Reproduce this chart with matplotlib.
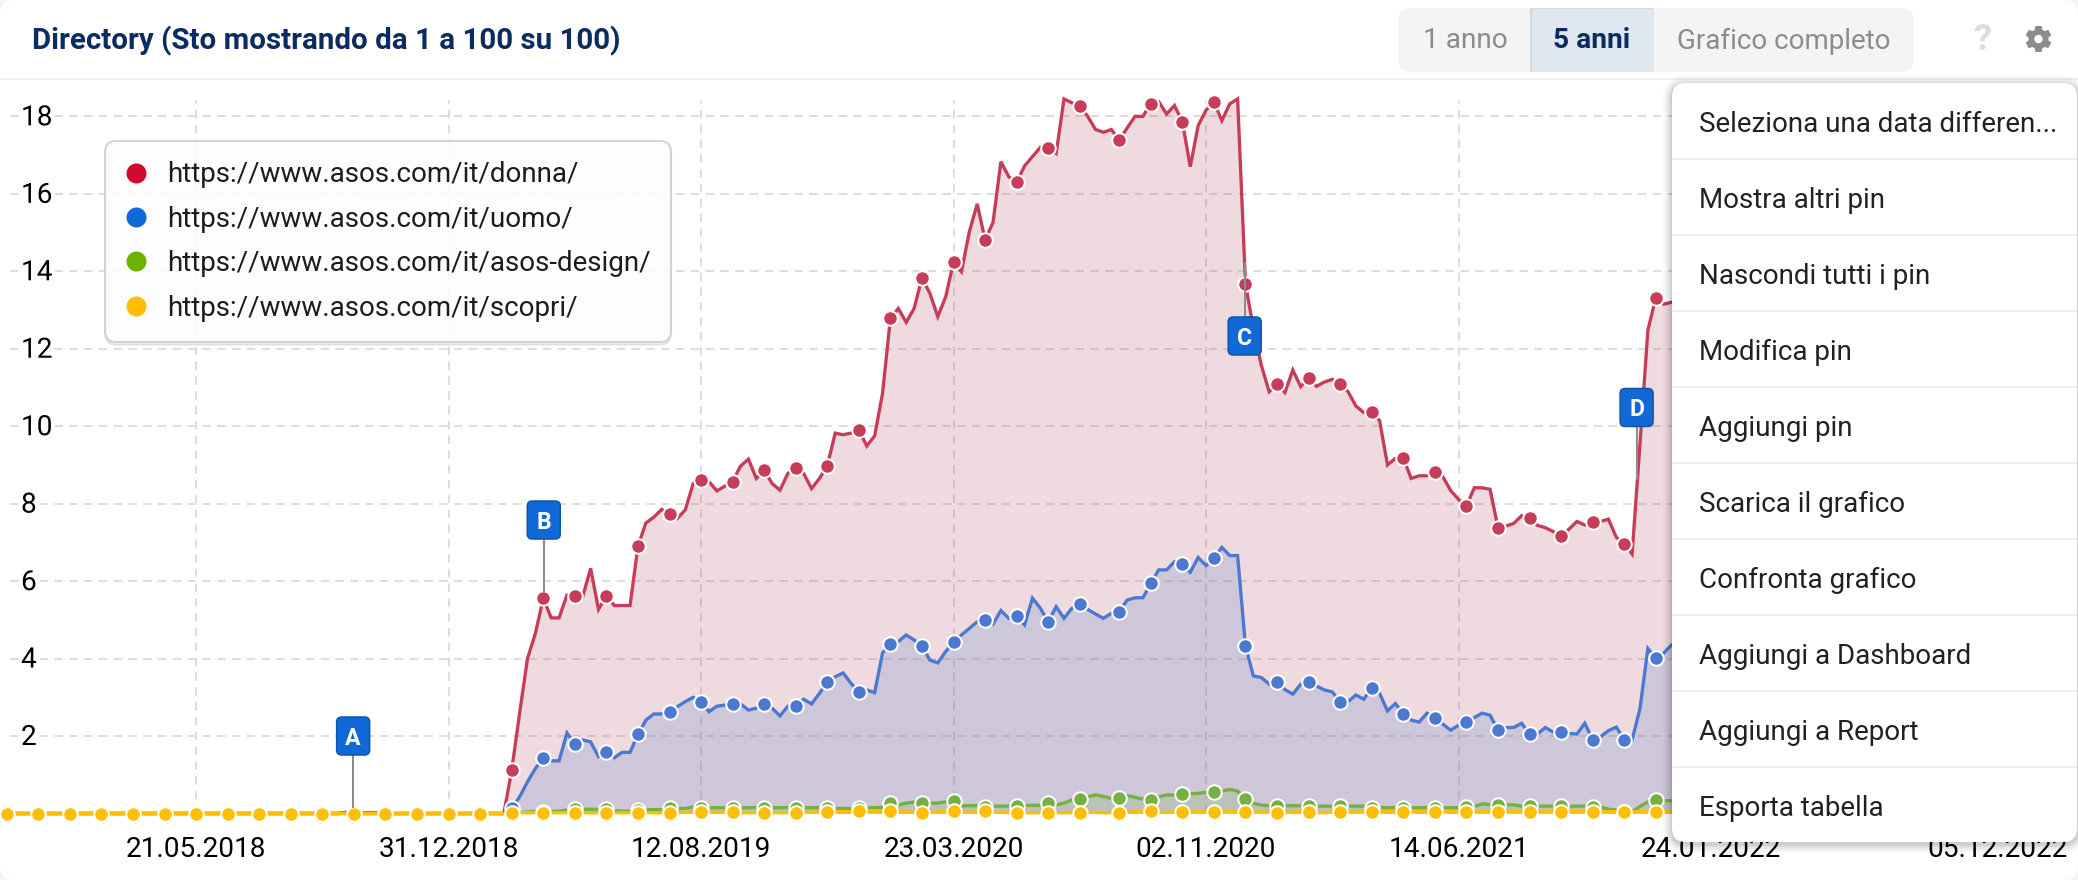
import matplotlib
matplotlib.use("Agg")
import matplotlib.pyplot as plt
import matplotlib.dates as mdates
import pandas as pd
import numpy as np
from matplotlib.lines import Line2D
from matplotlib.patches import FancyBboxPatch, Rectangle, Polygon, Circle
from matplotlib.transforms import ScaledTranslation
import matplotlib.patheffects as pe

plt.rcParams['font.family'] = ['Roboto', 'DejaVu Sans']

W, H = 2078, 880

first_date = '2017-12-04'
tick_dates = ['2018-05-21', '2018-12-31', '2019-08-12', '2020-03-23', '2020-11-02', '2021-06-14', '2022-01-24', '2022-12-05']
y_ticks = [2, 4, 6, 8, 10, 12, 14, 16, 18]
series_names = ['https://www.asos.com/it/donna/', 'https://www.asos.com/it/uomo/',
                'https://www.asos.com/it/asos-design/', 'https://www.asos.com/it/scopri/']

donna = [
 0,0,0,0,0,0,0,0,0,0,0,0,0,0,0,0,0,0,0,0,0,0,0,0,0,0,0,0,0,0,0,0,0,0,0,0,0,0,0,0,0,0,
 0,.03,.03,0,0,0,0,0,0,0,0,0,0,0, 0,0,0,0,0,0,0,0,
 1.12,2.59,4.0,4.65,5.56,5.05,5.05,5.64,5.62,5.6,6.33,5.27,5.62,5.37,5.37,5.37,
 6.9,7.5,7.65,7.85,7.74,7.62,7.84,8.52,8.61,8.57,8.33,8.45,8.57,8.97,9.15,8.65,
 8.87,8.52,8.35,8.78,8.91,8.78,8.39,8.65,8.98,9.82,9.78,9.82,9.9,9.49,9.75,10.85,
 12.79,13.04,12.68,13.04,13.83,13.43,12.83,13.34,14.24,13.99,15.02,15.74,14.81,15.26,16.83,16.44,
 16.3,16.72,16.96,17.2,17.18,17.04,18.45,18.35,18.27,18.0,17.66,17.59,17.66,17.39,17.7,18.0,
 18.0,18.33,18.38,18.06,18.28,17.86,16.7,17.76,18.16,18.37,17.89,18.32,18.45,13.67,12.53,11.58,
 10.89,11.09,10.87,11.45,11.02,11.25,11.03,11.14,11.21,11.09,10.89,10.52,10.35,10.37,10.14,9.0,
 9.17,9.18,8.65,8.72,8.72,8.83,8.7,8.34,8.11,7.94,8.41,8.41,8.37,7.38,7.42,7.49,
 7.69,7.63,7.44,7.38,7.28,7.17,7.34,7.54,7.45,7.53,7.54,7.6,7.13,6.97,6.7,9.55,
 12.48,13.31,13.15,13.2]
uomo = [
 0,0,0,0,0,0,0,0,0,0,0,0,0,0,0,0,0,0,0,0,0,0,0,0,0,0,0,0,0,0,0,0,0,0,0,0,0,0,0,0,0,0,
 0,.03,.03,.02,.02,.02,.03,0,0,0,0,0,0,0, 0,0,0,0,0,0,0,0,
 .13,.43,.82,1.16,1.44,1.36,1.36,2.08,1.8,1.9,1.85,1.47,1.59,1.44,1.58,1.58,
 2.05,2.41,2.57,2.57,2.63,2.76,2.89,3.0,2.89,2.63,2.77,2.8,2.83,2.83,2.67,2.72,
 2.83,2.72,2.52,2.77,2.77,2.95,2.83,3.1,3.4,3.53,3.63,3.36,3.14,3.19,3.12,4.15,
 4.38,4.44,4.61,4.48,4.33,3.96,3.89,4.18,4.43,4.61,4.78,4.95,5.0,4.89,5.24,5.04,
 5.1,4.87,5.56,5.3,4.95,5.34,5.04,5.3,5.41,5.27,5.15,5.04,5.17,5.21,5.51,5.57,
 5.57,5.94,6.29,6.29,6.5,6.44,6.23,6.61,6.4,6.59,6.87,6.66,6.66,4.32,3.55,3.51,
 3.34,3.39,3.2,3.08,3.34,3.39,3.29,3.19,3.14,2.88,2.89,3.06,2.95,3.25,3.1,2.65,
 2.84,2.57,2.41,2.36,2.59,2.47,2.31,2.15,2.28,2.36,2.48,2.59,2.54,2.15,2.22,2.22,
 2.33,2.05,2.05,2.22,2.1,2.1,2.07,2.05,2.33,1.9,1.98,2.14,2.23,1.9,1.9,2.71,
 4.26,4.01,4.14,4.35]
asos_design = [
 0,0,0,0,0,0,0,0,0,0,0,0,0,0,0,0,0,0,0,0,0,0,0,0,0,0,0,0,0,0,0,0,0,0,0,0,0,0,0,0,0,0,
 0,0,0,0,0,0,0,0,0,0,0,0,0,0, 0,0,0,0,0,0,0,0,
 0,.02,.04,.05,.05,.05,.06,.09,.11,.11,.11,.11,.11,.07,.06,.06,
 .09,.1,.1,.1,.13,.13,.13,.17,.15,.15,.15,.15,.15,.15,.15,.15,
 .15,.15,.15,.15,.15,.15,.15,.15,.13,.13,.13,.13,.13,.15,.15,.16,
 .26,.22,.27,.29,.28,.27,.27,.3,.32,.2,.2,.2,.18,.19,.19,.19,
 .2,.21,.21,.21,.26,.22,.27,.35,.37,.43,.48,.44,.39,.41,.46,.42,
 .37,.36,.43,.48,.48,.51,.51,.52,.55,.55,.58,.62,.58,.37,.26,.22,
 .2,.2,.2,.2,.2,.19,.19,.19,.19,.19,.19,.19,.19,.15,.15,.15,
 .15,.15,.15,.15,.15,.15,.15,.15,.15,.16,.18,.25,.23,.23,.23,.22,
 .19,.19,.19,.19,.19,.19,.19,.19,.19,.18,.17,.11,.09,.05,.05,.18,
 .3,.35,.33,.33]
scopri = [
 0,0,0,0,0,0,0,0,0,0,0,0,0,0,0,0,0,0,0,0,0,0,0,0,0,0,0,0,0,0,0,0,0,0,0,0,0,0,0,0,0,0,
 0,0,0,0,0,0,0,0,0,0,0,0,0,0, 0,0,0,0,0,0,0,0,
 .01,.02,.02,.02,.02,.02,.02,.02,.02,.02,.02,.02,.02,.02,.02,.02,
 .02,.02,.02,.02,.02,.02,.03,.03,.03,.03,.03,.03,.03,.02,.02,.02,
 .02,.02,.02,.02,.02,.03,.03,.04,.05,.05,.05,.05,.06,.06,.06,.06,
 .06,.06,.05,.03,.02,.03,.04,.05,.06,.03,.03,.04,.06,.03,.03,.02,
 .02,.02,.02,.02,.02,.02,.02,.02,.02,.03,.03,.02,.02,.02,.03,.05,
 .05,.06,.03,.03,.04,.05,.05,.05,.05,.05,.05,.05,.05,.05,.04,.04,
 .03,.01,.02,.04,.05,.05,.02,.02,.04,.05,.05,.03,.05,.05,.05,.05,
 .05,.05,.05,.05,.05,.05,.05,.05,.05,.05,.05,.05,.05,.05,.05,.05,
 .05,.05,.05,.05,.05,.05,.05,.05,.05,.05,.05,.05,.05,.05,.05,.05,
 .05,.05,.05,.05]
# positions (index in the weekly series) of the circled points
marker_idx = [0,4,8,12,16,20,24,28,32,36,40,44,48,52,56,60,64,68,72,76,80,84,88,92,96,100,104,108,112,116,120,
              124,128,132,136,141,145,149,153,157,161,165,169,173,177,181,185,189,193,197,201,205,209]

dates = pd.date_range(first_date, periods=len(donna), freq='7D')
line_cols = ['#c53d58', '#4b79cf', '#75b043', '#ffbe00']
fill_cols = ['#aa3c50', '#6c88cb', '#90ba6f', '#ffbe00']
fill_alpha = [0.18, 0.25, 0.30, 0.15]
legend_cols = ['#cf0a2c', '#1169d8', '#6cb300', '#ffbe00']

fig = plt.figure(figsize=(W/100, H/100), dpi=100, facecolor='#f4f4f4')
px = 0.72  # points per pixel
FS = 28 * px

# card background
bg = fig.add_axes([0, 0, 1, 1], zorder=-1)
bg.set_xlim(0, W); bg.set_ylim(H, 0); bg.axis('off')
bg.add_patch(FancyBboxPatch((12, 12), W-24, H-24, boxstyle='round,pad=12,rounding_size=14', fc='white', ec='none'))

# chart
L, R, T, B = 10, 2070, 100, 813.5
ax = fig.add_axes([L/W, 1-B/H, (R-L)/W, (B-T)/H], zorder=1)
ax.patch.set_alpha(0)
d0 = mdates.date2num(pd.Timestamp('2018-12-31'))
wk_px = 7.89 / 7
ax.set_xlim(d0 + (L-448.6)/wk_px, d0 + (R-448.6)/wk_px)
ax.set_ylim(0, (B-T)/38.73)
for s in ax.spines.values():
    s.set_visible(False)
ax.set_axisbelow(True)
ax.grid(True, color='#dedcdc', lw=2*px, dashes=(4.2, 3.2))
ax.set_yticks(y_ticks)
ax.set_xticks(mdates.date2num(pd.to_datetime(tick_dates)))
ax.xaxis.set_major_formatter(mdates.DateFormatter('%d.%m.%Y'))
ax.tick_params(length=0)
ax.tick_params(axis='x', labelsize=FS, pad=22*px, labelcolor='black')
ax.tick_params(axis='y', labelsize=FS, pad=-11*px, labelcolor='black')
for t in ax.get_yticklabels():
    t.set_ha('left')
    t.set_path_effects([pe.withStroke(linewidth=8*px, foreground='white')])
    t.set_transform(t.get_transform() + ScaledTranslation(0, 1.5/100, fig.dpi_scale_trans))
xl = ax.get_xticklabels()[-1]
xl.set_transform(xl.get_transform() + ScaledTranslation(-69/100, 0, fig.dpi_scale_trans))

x = mdates.date2num(dates)
for i, vals in enumerate([donna, uomo, asos_design, scopri]):
    v = np.array(vals, float)
    ax.fill_between(x, 0, v, color=fill_cols[i], alpha=fill_alpha[i], lw=0, zorder=2+i*0.1, clip_on=False)
for i, vals in enumerate([donna, uomo, asos_design, scopri]):
    v = np.array(vals, float)
    ax.plot(x, v, color=line_cols[i], lw=3.3*px, solid_joinstyle='miter', clip_on=False, zorder=3+i)
    ax.plot(x[marker_idx], v[marker_idx], ls='none', marker='o', ms=14.5*px, mfc=line_cols[i], mec='white', mew=2*px,
            clip_on=False, zorder=3.5+i)

handles = [Line2D([], [], ls='none', marker='o', ms=20*px, mfc=c, mec='none') for c in legend_cols]
leg = ax.legend(handles, series_names, loc='upper left', bbox_to_anchor=(105/W, 1-140.7/H), bbox_transform=fig.transFigure,
                borderaxespad=0, frameon=True, framealpha=0.9, edgecolor='#cfcfcf', facecolor='white', fancybox=True,
                fontsize=27.7*px, labelcolor='#1c1c1c', handlelength=0.79, handletextpad=0.71, labelspacing=0.63,
                borderpad=0.74, shadow={'ox': 0, 'oy': -2, 'alpha': 0.07, 'color': 'black'})
leg.set_zorder(20)
leg.get_frame().set_linewidth(2*px)
leg.get_frame().set_boxstyle('round', pad=0, rounding_size=0.4)

# interface layer
ui = fig.add_axes([0, 0, 1, 1], zorder=5)
ui.set_xlim(0, W); ui.set_ylim(H, 0); ui.axis('off'); ui.patch.set_alpha(0)

def rrect(x0, y0, x1, y1, r, **kw):
    p = FancyBboxPatch((x0+r, y0+r), x1-x0-2*r, y1-y0-2*r, boxstyle=f'round,pad={r},rounding_size={r}', **kw)
    ui.add_patch(p)
    return p

# header
ui.add_patch(Rectangle((0, 78), W, 2.5, fc='#f0f0f0', ec='none'))
ui.text(32, 40.5, 'Directory (Sto mostrando da 1 a 100 su 100)', fontsize=29.5*px, fontweight='bold', color='#0a2c60', va='center', ha='left')
rrect(1398, 8, 1914, 72, 14, fc='#f4f4f4', ec='none')
ui.add_patch(Rectangle((1530, 8), 124, 64, fc='#e0e7f0', ec='none'))
ui.add_patch(Rectangle((1530, 8), 1.5, 64, fc='#cfd8e4', ec='none'))
ui.add_patch(Rectangle((1530, 8), 124, 1.5, fc='#cfd8e4', ec='none'))
ui.text(1465, 41, '1 anno', fontsize=28*px, color='#8c8c8c', ha='center', va='center')
ui.text(1592, 41, '5 anni', fontsize=28*px, color='#0a2c60', fontweight='bold', ha='center', va='center')
ui.text(1783.5, 41, 'Grafico completo', fontsize=27.8*px, color='#8c8c8c', ha='center', va='center')
ui.text(1982, 40, '?', fontsize=36*px, color='#dcdcdc', fontweight='bold', ha='center', va='center')
# gear
gx, gy = 2038.5, 39
for a in np.arange(0, 360, 60):
    t = np.radians(a)
    c, s = np.cos(t), np.sin(t)
    pts = [(-4, 7), (4, 7), (3.2, 13), (-3.2, 13)]
    ui.add_patch(Polygon([(gx+p*c-q*s, gy+p*s+q*c) for p, q in pts], fc='#8c8c8c', ec='none'))
ui.add_patch(Circle((gx, gy), 10, fc='#8c8c8c', ec='none'))
ui.add_patch(Circle((gx, gy), 4.2, fc='white', ec='none'))

# pins
def data_px(idx):
    return ax.transData.transform((x[idx], 0))[0]
pin_labels = ['A', 'B', 'C', 'D']
pin_idx = [44, 68, 157, 207]
pin_dx = [-0.8, 0.5, -0.8, -3.4]
pin_centre_y = [736, 520, 336, 407.5]
pin_stem = [(755, 808), (539, 592), (262, 317), (426, 480)]
for lab, i, dx, cy, (s0, s1) in zip(pin_labels, pin_idx, pin_dx, pin_centre_y, pin_stem):
    cx = data_px(i) + dx
    ui.plot([cx, cx], [s0, s1], color='#8c8c8c', lw=2*px, solid_capstyle='butt', zorder=2)
    rrect(cx-16.5, cy-19, cx+16.5, cy+19, 5, fc='#1169d8', ec='#0c55ab', lw=1.5*px, zorder=3)
    ui.text(cx, cy, lab, color='white', fontsize=23*px, fontweight='bold', ha='center', va='center_baseline', zorder=4)

# menu
mx0, my0, mx1, my1 = 1672, 83, 2077, 842
for g, a in zip([9, 7, 5, 3, 1.5], [.025, .03, .04, .05, .06]):
    rrect(mx0-g, my0-g+2, mx1+g, my1+g+2, 14+g, fc='black', ec='none', alpha=a, zorder=5)
rrect(mx0, my0, mx1, my1, 14, fc='white', ec='none', zorder=6)
menu_items = ['Seleziona una data differen...', 'Mostra altri pin', 'Nascondi tutti i pin', 'Modifica pin', 'Aggiungi pin',
              'Scarica il grafico', 'Confronta grafico', 'Aggiungi a Dashboard', 'Aggiungi a Report', 'Esporta tabella']
for n, item in enumerate(menu_items):
    yc = 124 + 76*n
    ui.text(1699, yc, item, fontsize=27.7*px, color='#212121', ha='left', va='center', zorder=7)
    if n < len(menu_items)-1:
        ui.add_patch(Rectangle((mx0, 159+76*n-1), mx1-mx0, 2, fc='#eeeeee', ec='none', zorder=7))

fig.savefig('out.png', dpi=100, facecolor=fig.get_facecolor())
